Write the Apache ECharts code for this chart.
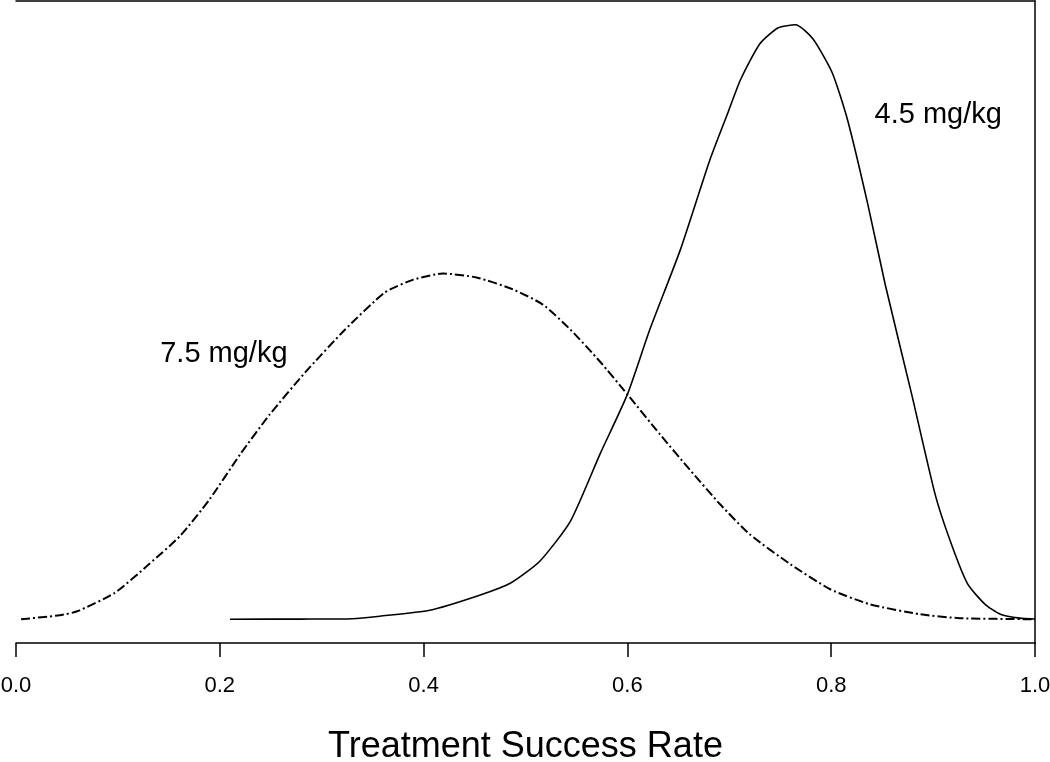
<!DOCTYPE html>
<html>
<head>
<meta charset="utf-8">
<script src="https://cdn.jsdelivr.net/npm/echarts@6/dist/echarts.min.js"></script>
<style>
html,body{margin:0;padding:0;background:#fff;}
#chart{width:1050px;height:762px;}
</style>
</head>
<body>
<div id="chart"></div>
<script>
// x tick labels
var xTicks = [0.0, 0.2, 0.4, 0.6, 0.8, 1.0];
// 4.5 mg/kg density curve (solid)
var dose45X = [0.210,0.280,0.330,0.357,0.406,0.455,0.485,0.514,0.544,0.573,0.600,0.622,0.652,0.681,0.699,0.711,0.730,0.748,0.765,0.782,0.801,0.816,0.836,0.853,0.879,0.902,0.918,0.934,0.951,0.966,0.985,1.000];
var dose45Y = [0.000,0.001,0.004,0.023,0.068,0.182,0.272,0.439,0.741,1.248,1.702,2.193,2.798,3.479,3.842,4.084,4.356,4.477,4.500,4.394,4.137,3.781,3.139,2.534,1.702,0.945,0.567,0.265,0.113,0.038,0.008,0.002];
// 7.5 mg/kg density curve (dash-dot)
var dose75X = [0.005,0.043,0.060,0.097,0.131,0.161,0.190,0.220,0.249,0.284,0.323,0.362,0.390,0.419,0.452,0.488,0.517,0.544,0.573,0.600,0.632,0.661,0.691,0.720,0.760,0.799,0.838,0.887,0.926,1.000];
var dose75Y = [0.000,0.030,0.060,0.200,0.420,0.630,0.908,1.248,1.550,1.870,2.193,2.473,2.571,2.617,2.587,2.496,2.382,2.193,1.951,1.702,1.399,1.134,0.870,0.643,0.416,0.227,0.113,0.038,0.008,0.000];
// annotation labels: [x, y, text]
var labels45 = [0.905, 3.82, '4.5 mg/kg'];
var labels75 = [0.204, 2.005, '7.5 mg/kg'];
var yMaxData = 4.5;

function pairs(xs, ys){ return xs.map(function(x,i){ return [x, ys[i]]; }); }
var FONT = '"Liberation Sans", Arial, sans-serif';

var chart = echarts.init(document.getElementById('chart'), null, {renderer:'canvas'});
chart.setOption({
  animation:false,
  backgroundColor:'#ffffff',
  grid:{left:16, right:15, top:1, bottom:119, containLabel:false, outerBoundsMode:'none'},
  xAxis:[{
    type:'value', min:0, max:1, interval:0.2, position:'bottom',
    name:'Treatment Success Rate', nameLocation:'middle', nameGap:86,
    nameTextStyle:{fontFamily:FONT, fontSize:36, color:'#000'},
    axisLine:{show:true, onZero:false, lineStyle:{color:'#000', width:1.5}},
    axisTick:{show:true, length:14, lineStyle:{color:'#000', width:1.5}},
    axisLabel:{show:true, margin:32, fontFamily:FONT, fontSize:22, color:'#000',
      formatter:function(v){ return v.toFixed(1); }},
    splitLine:{show:false}
  },{
    type:'value', min:0, max:1, position:'top',
    axisLine:{show:true, onZero:false, lineStyle:{color:'#000', width:1.5}},
    axisTick:{show:false}, axisLabel:{show:false}, splitLine:{show:false}
  }],
  yAxis:[{
    type:'value', min:-0.04*yMaxData, max:1.04*yMaxData, position:'right',
    axisLine:{show:true, onZero:false, lineStyle:{color:'#000', width:1.5}},
    axisTick:{show:false}, axisLabel:{show:false}, splitLine:{show:false}
  }],
  series:[{
    name:'4.5 mg/kg', type:'line', data:pairs(dose45X, dose45Y),
    showSymbol:false, smooth:0.2,
    lineStyle:{color:'#000', width:1.6, type:'solid'},
    markPoint:{symbol:'circle', symbolSize:0, silent:true,
      label:{show:true, position:'inside', formatter:labels45[2], fontFamily:FONT, fontSize:29, color:'#000'},
      data:[{coord:[labels45[0], labels45[1]]}]}
  },{
    name:'7.5 mg/kg', type:'line', data:pairs(dose75X, dose75Y),
    showSymbol:false, smooth:0.2,
    lineStyle:{color:'#000', width:2, type:[9,3,2,3]},
    markPoint:{symbol:'circle', symbolSize:0, silent:true,
      label:{show:true, position:'inside', formatter:labels75[2], fontFamily:FONT, fontSize:29, color:'#000'},
      data:[{coord:[labels75[0], labels75[1]]}]}
  }]
});
</script>
</body>
</html>
